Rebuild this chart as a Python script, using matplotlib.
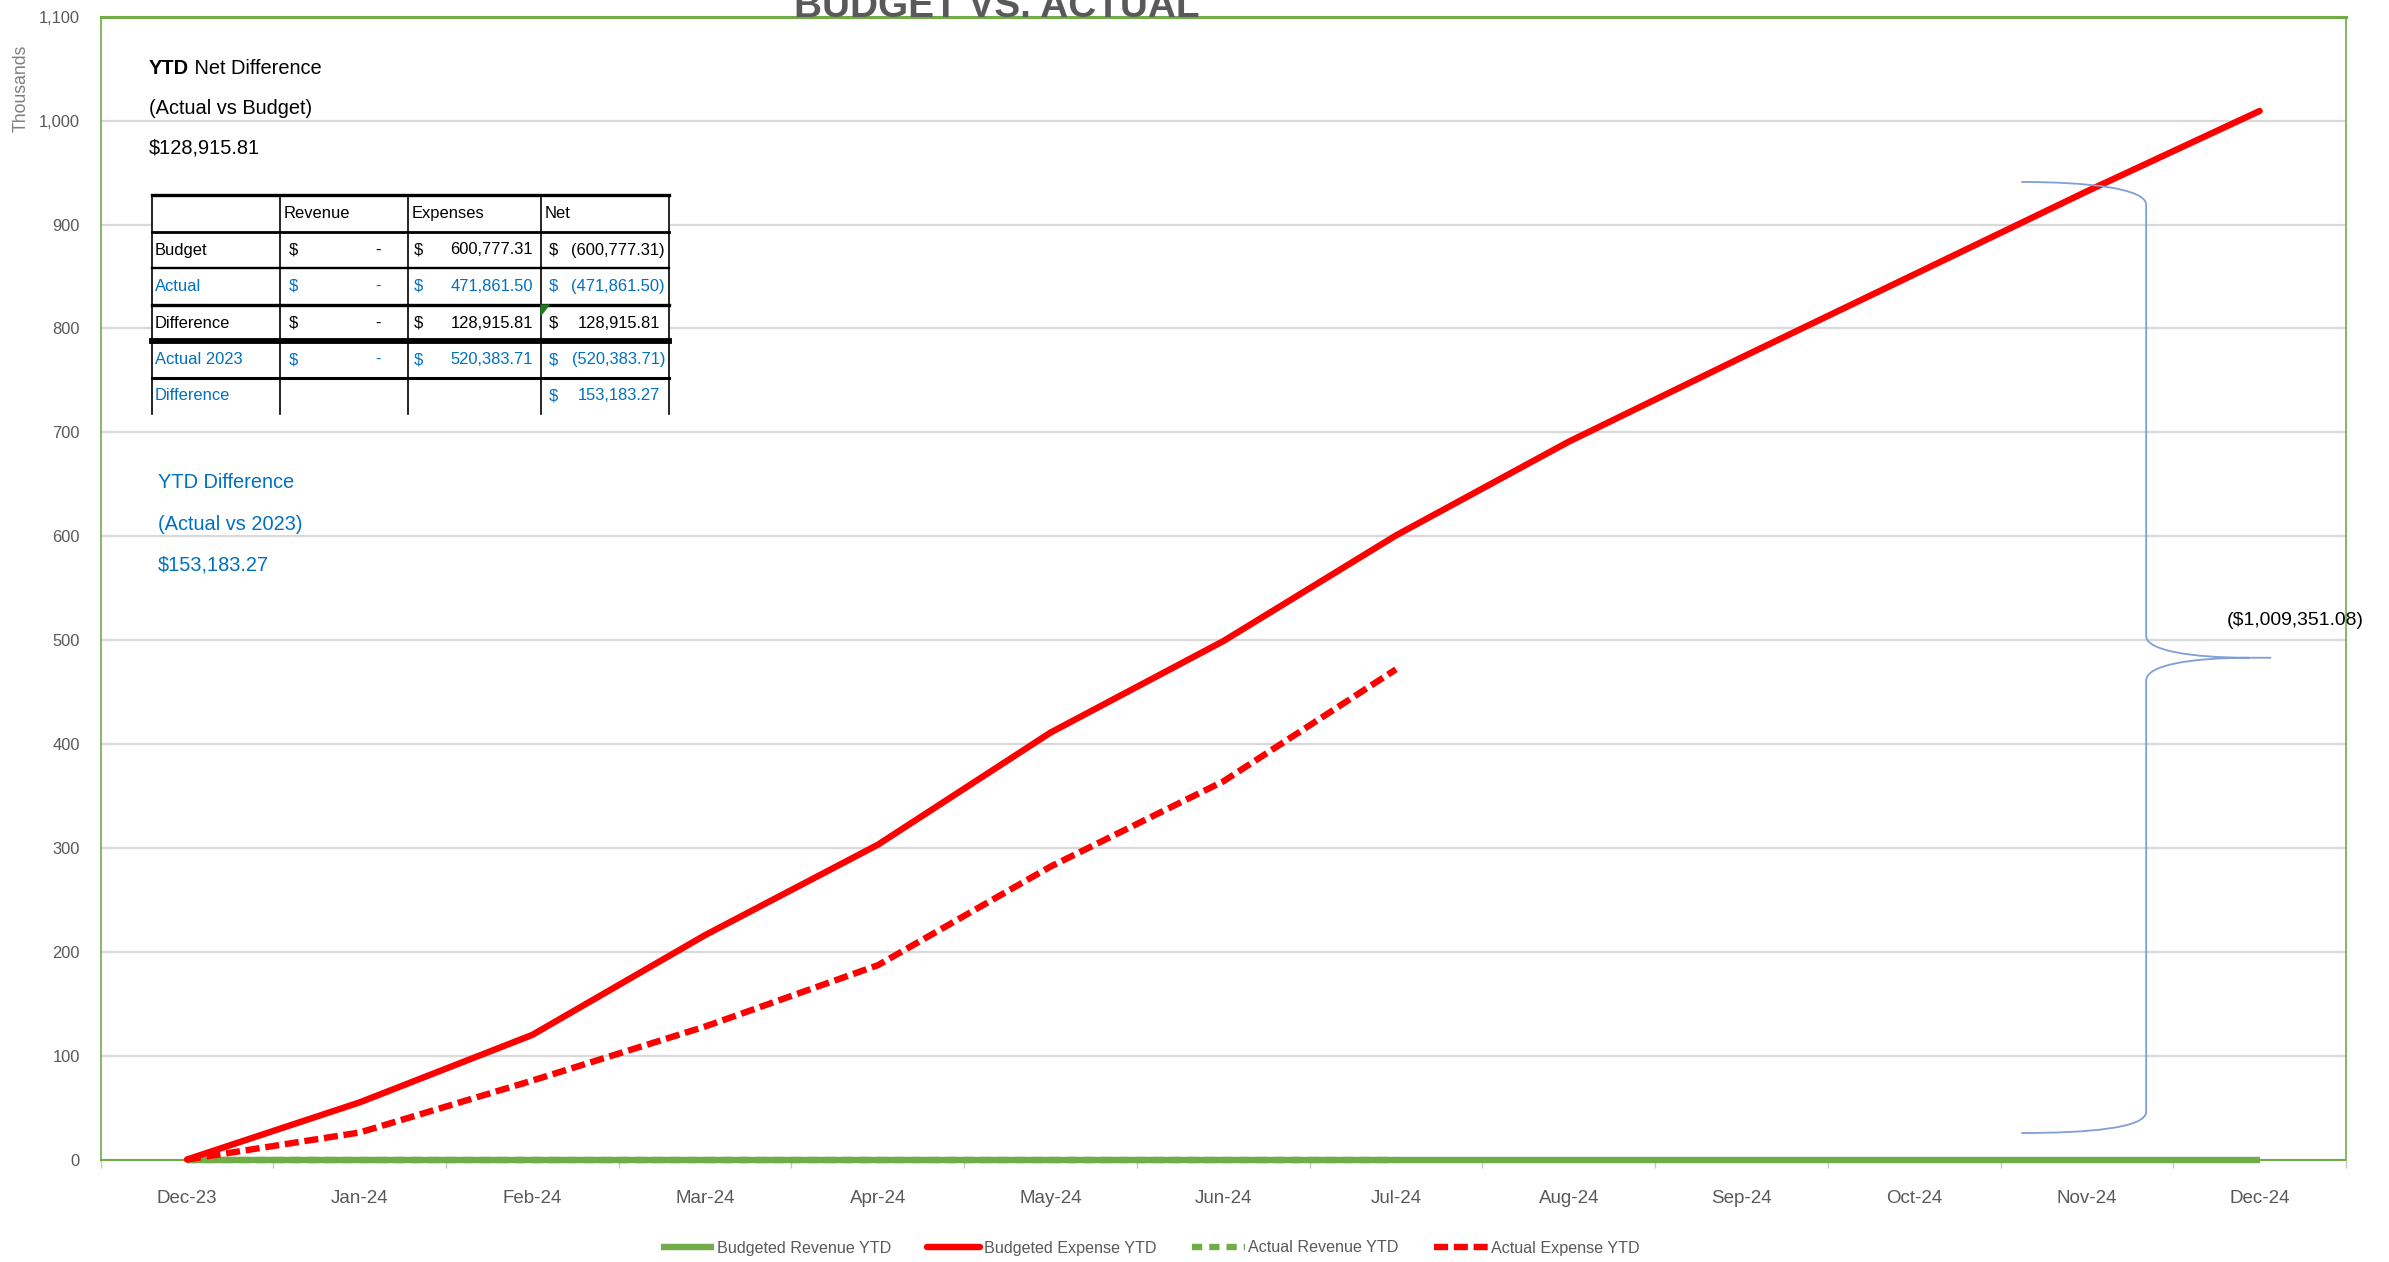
import matplotlib
matplotlib.use('Agg')
import matplotlib.pyplot as plt
from matplotlib import font_manager as fm
from matplotlib.path import Path
from matplotlib.patches import PathPatch, Polygon, Rectangle
from matplotlib.lines import Line2D

# ---------------- data (thousands) ----------------
months = ['Dec-23', 'Jan-24', 'Feb-24', 'Mar-24', 'Apr-24', 'May-24', 'Jun-24',
          'Jul-24', 'Aug-24', 'Sep-24', 'Oct-24', 'Nov-24', 'Dec-24']
budgeted_revenue_ytd = [0, 0, 0, 0, 0, 0, 0, 0, 0, 0, 0, 0, 0]
budgeted_expense_ytd = [0, 55, 120, 216, 303, 411, 499, 600.78, 691, 772, 852, 932, 1009.35]
actual_revenue_ytd = [0, 0, 0, 0, 0, 0, 0, 0]
actual_expense_ytd = [0, 26, 76, 128, 187, 282, 364, 471.86]
y_ticks = [0, 100, 200, 300, 400, 500, 600, 700, 800, 900, 1000, 1100]

table_header = ['', 'Revenue', 'Expenses', 'Net']
table_rows = ['Budget', 'Actual', 'Difference', 'Actual 2023', 'Difference']
table_revenue = ['-', '-', '-', '-', None]
table_expenses = ['600,777.31', '471,861.50', '128,915.81', '520,383.71', None]
table_net = ['(600,777.31)', '(471,861.50)', '128,915.81', '(520,383.71)', '153,183.27']
row_is_blue = [False, True, False, True, True]

# ---------------- fonts ----------------
names = {f.name for f in fm.fontManager.ttflist}
if 'Liberation Sans Narrow' in names:
    FONT, S = 'Liberation Sans Narrow', 1.0
else:
    FONT, S = 'Liberation Sans', 0.82
plt.rcParams['font.family'] = [FONT, 'DejaVu Sans']

BLUE = '#0070C0'
GRAY = '#595959'
GREEN = '#70AD47'
RED = '#FF0000'

W, H = 2389, 1262
fig = plt.figure(figsize=(W / 100, H / 100), dpi=100)


def fx(px):
    return px / W


def fy(py):
    return 1 - py / H


ax = fig.add_axes([fx(100.6), fy(1159.5), fx(2346) - fx(100.6), fy(16.8) - fy(1159.5)])
x = list(range(len(months)))

ax.plot(x, budgeted_revenue_ytd, color=GREEN, lw=4.6, solid_capstyle='butt',
        label='Budgeted Revenue YTD', zorder=4, clip_on=False)
ax.plot(x, budgeted_expense_ytd, color=RED, lw=4.6, solid_capstyle='round',
        label='Budgeted Expense YTD', zorder=5, clip_on=False)
ax.plot(x[:len(actual_revenue_ytd)], actual_revenue_ytd, color=GREEN, lw=4.6,
        ls=(0, (1.6, 1.1)), label='Actual Revenue YTD', zorder=3, clip_on=False)
ax.plot(x[:len(actual_expense_ytd)], actual_expense_ytd, color=RED, lw=4.6,
        ls=(0, (2.2, 0.9)), label='Actual Expense YTD', zorder=5, clip_on=False)

ax.set_xlim(-0.5, len(months) - 0.5)
ax.set_ylim(0, 1100)
ax.set_yticks(y_ticks)
ax.set_yticklabels([f'{v:,}' for v in y_ticks])
ax.set_xticks(x)
ax.set_xticklabels(months)
ax.set_xticks([i - 0.5 for i in range(len(months) + 1)], minor=True)
ax.tick_params(axis='x', which='major', length=0, pad=22, labelsize=16.5 * S, labelcolor=GRAY)
ax.tick_params(axis='x', which='minor', length=6, width=1, color='#c8c8c8')
ax.tick_params(axis='y', length=0, pad=15, labelsize=14.5 * S, labelcolor=GRAY)
ax.yaxis.grid(True, color='#d9d9d9', lw=1.6)
ax.set_axisbelow(True)

ax.spines['top'].set_color(GREEN)
ax.spines['top'].set_linewidth(2.2)
for s in ('left', 'right'):
    ax.spines[s].set_color(GREEN)
    ax.spines[s].set_linewidth(1.2)
ax.spines['bottom'].set_color(GREEN)
ax.spines['bottom'].set_linewidth(1.5)
ax.spines['bottom'].set_linestyle((0, (1, 1)))

# brace annotation
verts = [
    (10.62, 941), (11.0, 941), (11.343, 935), (11.343, 919),
    (11.343, 504),
    (11.343, 490), (11.6, 483), (11.94, 483),
    (12.067, 483),
    (11.94, 483),
    (11.6, 483), (11.343, 476), (11.343, 461),
    (11.343, 46),
    (11.343, 30), (11.0, 25.5), (10.62, 25.5),
]
codes = [Path.MOVETO, Path.CURVE4, Path.CURVE4, Path.CURVE4,
         Path.LINETO,
         Path.CURVE4, Path.CURVE4, Path.CURVE4,
         Path.LINETO,
         Path.MOVETO,
         Path.CURVE4, Path.CURVE4, Path.CURVE4,
         Path.LINETO,
         Path.CURVE4, Path.CURVE4, Path.CURVE4]
ax.add_patch(PathPatch(Path(verts, codes), fill=False, edgecolor='#7F9FD6',
                       lw=1.3, zorder=6, clip_on=False))
ax.text(11.81, 519, '($1,009,351.08)', ha='left', va='center', fontsize=17 * S,
        color='black', clip_on=False, zorder=7)

# title (cut at the top edge, as in the reference)
fig.text(fx(997), fy(17), 'BUDGET VS. ACTUAL', ha='center', va='baseline',
         fontsize=34 * S, fontweight='bold', color=GRAY, zorder=10)

# y axis title
fig.text(fx(21), fy(88), 'Thousands', rotation=90, ha='center', va='center',
         fontsize=15.5 * S, color='#7f7f7f')

# legend
handles, labels = ax.get_legend_handles_labels()
fig.legend(handles, labels, loc='center', bbox_to_anchor=(fx(1150), fy(1248)), ncol=4,
           frameon=False, fontsize=14.2 * S, handlelength=3.3, handletextpad=0.2,
           columnspacing=2.2, labelcolor=GRAY)

# text boxes
bb = dict(facecolor='white', edgecolor='none', pad=1)
TS = 17.6 * S
t1 = fig.text(fx(149), fy(69), 'YTD', ha='left', va='center', fontsize=TS,
              fontweight='bold', color='black', bbox=bb)
ax.annotate(' Net Difference', xy=(1, 0), xycoords=t1, ha='left', va='bottom',
            fontsize=TS, color='black', annotation_clip=False)
fig.text(fx(149), fy(108), '(Actual vs Budget)', ha='left', va='center', fontsize=TS,
         color='black', bbox=bb)
fig.text(fx(149), fy(148), '$128,915.81', ha='left', va='center', fontsize=TS,
         color='black', bbox=bb)
fig.text(fx(158), fy(483), 'YTD Difference', ha='left', va='center', fontsize=TS,
         color=BLUE, bbox=bb)
fig.text(fx(158), fy(524), '(Actual vs 2023)', ha='left', va='center', fontsize=TS,
         color=BLUE, bbox=bb)
fig.text(fx(158), fy(565), '$153,183.27', ha='left', va='center', fontsize=TS,
         color=BLUE, bbox=bb)

# table
cx = [152, 280, 408, 541, 669]
ry = [195, 232, 268, 305, 341, 378, 414]
fig.add_artist(Rectangle((fx(cx[0]), fy(ry[-1])), fx(cx[-1]) - fx(cx[0]),
                         fy(ry[0]) - fy(ry[-1]), transform=fig.transFigure,
                         facecolor='white', edgecolor='none', zorder=1))
h_lw = [2.4, 2.0, 1.7, 2.4, 4.2, 2.2]
for yy, lw in zip(ry[:-1], h_lw):
    fig.add_artist(Line2D([fx(cx[0]), fx(cx[-1])], [fy(yy), fy(yy)],
                          transform=fig.transFigure, color='black', lw=lw, zorder=2))
for xx in cx:
    fig.add_artist(Line2D([fx(xx), fx(xx)], [fy(ry[0]), fy(ry[-1])],
                          transform=fig.transFigure, color='black', lw=1.2, zorder=2))

CS = 14.5 * S
yc = (ry[0] + ry[1]) / 2
for j, htxt in enumerate(table_header):
    if htxt:
        fig.text(fx(cx[j] + 4), fy(yc), htxt, ha='left', va='center', fontsize=CS, color='black')

for i, lab in enumerate(table_rows):
    yc = (ry[i + 1] + ry[i + 2]) / 2
    col = BLUE if row_is_blue[i] else 'black'
    fig.text(fx(cx[0] + 3), fy(yc), lab, ha='left', va='center', fontsize=CS, color=col)
    if table_revenue[i] is not None:
        fig.text(fx(cx[1] + 9), fy(yc), '$', ha='left', va='center', fontsize=CS, color=col)
        fig.text(fx(cx[2] - 30), fy(yc), table_revenue[i], ha='center', va='center',
                 fontsize=CS, color=col)
    if table_expenses[i] is not None:
        fig.text(fx(cx[2] + 6), fy(yc), '$', ha='left', va='center', fontsize=CS, color=col)
        fig.text(fx(cx[3] - 8), fy(yc), table_expenses[i], ha='right', va='center',
                 fontsize=CS, color=col)
    if table_net[i] is not None:
        fig.text(fx(cx[3] + 8), fy(yc), '$', ha='left', va='center', fontsize=CS, color=col)
        right = cx[4] - 4 if table_net[i].endswith(')') else cx[4] - 9
        fig.text(fx(right), fy(yc), table_net[i], ha='right', va='center',
                 fontsize=CS, color=col)

fig.add_artist(Polygon([(fx(541), fy(305)), (fx(549), fy(305)), (fx(541), fy(315))],
                       closed=True, transform=fig.transFigure, color='#1E7B1E', zorder=3))

fig.savefig('out.png', dpi=100, facecolor='white')
